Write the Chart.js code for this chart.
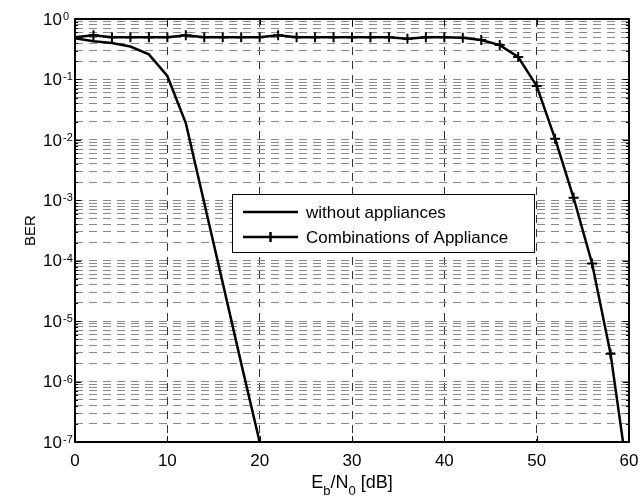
<!DOCTYPE html>
<html>
<head>
<meta charset="utf-8">
<script src="https://cdn.jsdelivr.net/npm/chart.js@4.4.1/dist/chart.umd.min.js"></script>
<style>
  html, body { margin: 0; padding: 0; background: #fff; }
  #canvas { display: block; }
</style>
</head>
<body>
<canvas id="canvas" width="641" height="499"></canvas>
<script>
// values (Eb/N0 in dB, BER)
const snrNoApp = [0, 2, 4, 6, 8, 10, 12, 14, 16, 18, 20];
const berNoApp = [0.48, 0.43, 0.40, 0.35, 0.26, 0.114, 0.019, 9e-4, 4.3e-5, 2e-6, 1e-7];

const snrComb = [0, 2, 4, 6, 8, 10, 12, 14, 16, 18, 20, 22, 24, 26, 28, 30,
                 32, 34, 36, 38, 40, 42, 44, 46, 48, 50, 52, 54, 56, 58, 60];
const berComb = [0.50, 0.54, 0.50, 0.50, 0.50, 0.50, 0.54, 0.50, 0.50, 0.50, 0.50,
                 0.54, 0.50, 0.50, 0.50, 0.50, 0.50, 0.50, 0.47, 0.50, 0.50, 0.49,
                 0.45, 0.37, 0.235, 0.078, 0.0104, 1.1e-3, 9e-5, 2.9e-6, 2e-8];

const seriesLabels = ['without appliances', 'Combinations of Appliance'];
const xTicks = [0, 10, 20, 30, 40, 50, 60];
const yExponents = [0, -1, -2, -3, -4, -5, -6, -7];

const FONT = '"Liberation Sans", Arial, Helvetica, sans-serif';

// log ticks: every m * 10^e, decades are the major ones
var yTicks = [];
for (let e of yExponents) {
  if (e === 0) { yTicks.push({value: 1, major: true}); continue; }
  for (let m = 1; m <= 9; m++) {
    yTicks.push({value: m * Math.pow(10, e), major: m === 1});
  }
}

// labels, ticks, box and legend drawn the MATLAB way
const matlabLook = {
  id: 'matlabLook',
  afterDraw(chart) {
    const ctx = chart.ctx;
    const area = chart.chartArea;
    const xs = chart.scales.x;
    const ys = chart.scales.y;
    ctx.save();

    // inner tick marks
    ctx.strokeStyle = '#000';
    ctx.lineWidth = 1;
    ctx.beginPath();
    for (let t of yTicks) {
      const y = Math.round(ys.getPixelForValue(t.value)) + 0.5;
      const len = t.major ? 6 : 3;
      ctx.moveTo(area.left, y); ctx.lineTo(area.left + len, y);
      ctx.moveTo(area.right, y); ctx.lineTo(area.right - len, y);
    }
    for (let v of xTicks) {
      const x = Math.round(xs.getPixelForValue(v)) + 0.5;
      ctx.moveTo(x, area.bottom); ctx.lineTo(x, area.bottom - 6);
      ctx.moveTo(x, area.top); ctx.lineTo(x, area.top + 6);
    }
    ctx.stroke();

    // axes box
    ctx.lineWidth = 2;
    ctx.strokeRect(area.left, area.top, area.right - area.left, area.bottom - area.top);

    // x tick labels
    ctx.fillStyle = '#000';
    ctx.font = '17px ' + FONT;
    ctx.textAlign = 'center';
    ctx.textBaseline = 'middle';
    for (let v of xTicks) {
      ctx.fillText(String(v), xs.getPixelForValue(v), 461);
    }

    // y tick labels 10^e
    for (let e of yExponents) {
      const y = ys.getPixelForValue(Math.pow(10, e));
      ctx.font = '17px ' + FONT;
      ctx.textAlign = 'right';
      ctx.textBaseline = 'middle';
      ctx.fillText('10', 62, y + 1);
      ctx.font = '11px ' + FONT;
      ctx.textAlign = 'left';
      ctx.textBaseline = 'alphabetic';
      ctx.fillText(String(e), 63, y + 1);
    }

    // x title E_b/N_0 [dB]
    const parts = [['E', 18, 0], ['b', 13, 7], ['/N', 18, 0], ['0', 13, 7], [' [dB]', 18, 0]];
    let total = 0;
    for (let p of parts) { ctx.font = p[1] + 'px ' + FONT; total += ctx.measureText(p[0]).width; }
    let px = (area.left + area.right) / 2 - total / 2;
    ctx.textAlign = 'left';
    ctx.textBaseline = 'alphabetic';
    for (let p of parts) {
      ctx.font = p[1] + 'px ' + FONT;
      ctx.fillText(p[0], px, 488 + p[2]);
      px += ctx.measureText(p[0]).width;
    }

    // y title
    ctx.save();
    ctx.translate(31, (area.top + area.bottom) / 2);
    ctx.rotate(-Math.PI / 2);
    ctx.font = '15px ' + FONT;
    ctx.textAlign = 'center';
    ctx.textBaseline = 'middle';
    ctx.fillText('BER', 0, 0);
    ctx.restore();

    // legend
    ctx.fillStyle = '#fff';
    ctx.fillRect(232, 194, 302, 58);
    ctx.lineWidth = 1;
    ctx.strokeStyle = '#000';
    ctx.strokeRect(232.5, 194.5, 302, 58);
    const rows = [212, 237];
    chart.data.datasets.forEach((ds, i) => {
      const y = rows[i];
      ctx.strokeStyle = ds.borderColor;
      ctx.lineWidth = ds.borderWidth;
      ctx.beginPath();
      ctx.moveTo(243, y); ctx.lineTo(298, y);
      if (ds.pointRadius > 0) {
        ctx.moveTo(270.5, y - ds.pointRadius); ctx.lineTo(270.5, y + ds.pointRadius);
      }
      ctx.stroke();
      ctx.fillStyle = '#000';
      ctx.font = '17px ' + FONT;
      ctx.textAlign = 'left';
      ctx.textBaseline = 'middle';
      ctx.fillText(ds.label, 306, y + 1);
    });

    ctx.restore();
  }
};

var ctx = document.getElementById('canvas').getContext('2d');
var myChart = new Chart(ctx, {
  type: 'line',
  data: {
    datasets: [
      {
        label: seriesLabels[0],
        data: snrNoApp.map((x, i) => ({x: x, y: berNoApp[i]})),
        borderColor: '#000',
        borderWidth: 2.5,
        pointRadius: 0,
        tension: 0
      },
      {
        label: seriesLabels[1],
        data: snrComb.map((x, i) => ({x: x, y: berComb[i]})),
        borderColor: '#000',
        borderWidth: 2.5,
        pointStyle: 'cross',
        pointRadius: 5,
        pointBorderWidth: 2,
        pointBorderColor: '#000',
        tension: 0
      }
    ]
  },
  options: {
    responsive: false,
    animation: false,
    devicePixelRatio: 1,
    layout: { padding: { left: 75, right: 12, top: 19, bottom: 57 } },
    plugins: { legend: { display: false }, tooltip: { enabled: false } },
    scales: {
      x: {
        type: 'linear',
        min: 0,
        max: 60,
        ticks: { display: false, stepSize: 10 },
        afterBuildTicks: (scale) => { scale.ticks = xTicks.map(v => ({value: v})); },
        grid: { color: '#333', lineWidth: 1, drawTicks: false },
        border: { display: false, dash: [8, 6] }
      },
      y: {
        type: 'logarithmic',
        min: 1e-7,
        max: 1,
        ticks: { display: false, autoSkip: false },
        afterBuildTicks: (scale) => { scale.ticks = yTicks.map(t => ({value: t.value, major: t.major})); },
        grid: { color: '#8a8a8a', lineWidth: 1, drawTicks: false },
        border: { display: false, dash: [8, 6] }
      }
    }
  },
  plugins: [matlabLook]
});
</script>
</body>
</html>
